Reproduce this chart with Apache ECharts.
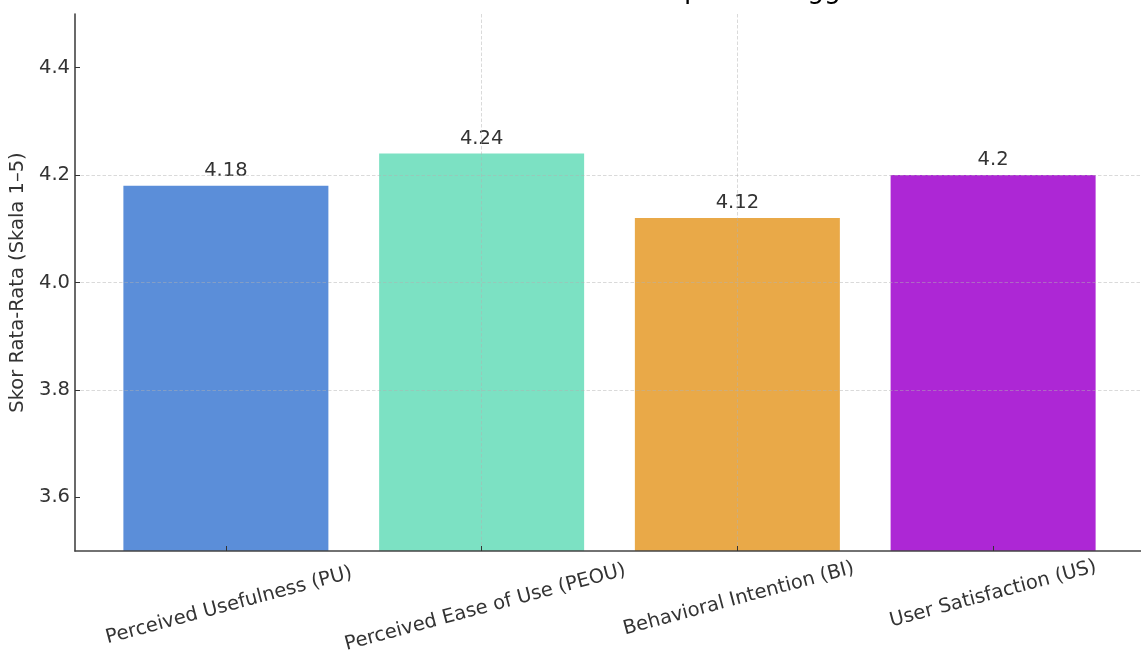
<!DOCTYPE html>
<html>
<head>
<meta charset="utf-8">
<script src="https://cdn.jsdelivr.net/npm/echarts@6/dist/echarts.min.js"></script>
<style>
  html, body { margin: 0; padding: 0; background: #ffffff; }
  #chart { width: 1141px; height: 656px; }
</style>
</head>
<body>
<div id="chart"></div>
<script>
// Mean score per research variable (scale 1-5)
const categories = [
  'Perceived Usefulness (PU)',
  'Perceived Ease of Use (PEOU)',
  'Behavioral Intention (BI)',
  'User Satisfaction (US)'
];
const scores = [4.18, 4.24, 4.12, 4.2];
const barColors = ['#5b8ed9', '#7ce1c3', '#e9a948', '#ad27d5'];
const yTicks = [3.6, 3.8, 4.0, 4.2, 4.4];
const xTicks = [0, 1, 2, 3];
const titleText = 'Skor Rata-Rata Variabel pada Pengguna';
const yAxisTitle = 'Skor Rata-Rata (Skala 1\u20135)';

const FONT = '"DejaVu Sans", "Liberation Sans", sans-serif';
const TEXT = '#333333';
const FS = 19.5;
const GRID_LINE = {
  color: 'rgba(176,176,176,0.6)',
  width: 0.8,
  type: [3.5, 2]
};

const chart = echarts.init(document.getElementById('chart'), null, { renderer: 'canvas' });

function richLabel(padTop) {
  return { padding: [padTop, 0, 0, 0], fontSize: FS, color: TEXT, fontFamily: FONT };
}

chart.setOption({
  backgroundColor: '#ffffff',
  animation: false,
  textStyle: { fontFamily: FONT, color: TEXT },
  // Title sits above the top edge of the canvas; only its descenders remain in view
  graphic: [{
    type: 'text',
    x: 626,
    y: -8.5,
    z: 10,
    style: {
      text: titleText,
      fontSize: 26.6,
      fontFamily: FONT,
      fill: '#000000',
      align: 'center',
      verticalAlign: 'middle'
    }
  }],
  grid: { left: 75, right: -3, top: 14, bottom: 105, containLabel: false, outerBoundsMode: 'none' },
  xAxis: {
    type: 'value',
    min: -0.59,
    max: 3.59,
    z: 3,
    axisLine: { show: true, onZero: false, lineStyle: { color: '#444444', width: 1.6 } },
    axisTick: { show: true, inside: true, length: 5, customValues: xTicks, lineStyle: { color: '#333333', width: 1 } },
    splitLine: { show: true, showMinLine: false, showMaxLine: false, lineStyle: GRID_LINE },
    axisLabel: {
      customValues: xTicks,
      rotate: 15,
      margin: 43,
      align: 'center',
      verticalAlign: 'middle',
      fontSize: FS,
      color: TEXT,
      fontFamily: FONT,
      formatter: function (v) {
        const i = Math.round(v);
        return '{c' + i + '|' + categories[i] + '}';
      },
      rich: {
        c0: richLabel(24),
        c1: richLabel(28),
        c2: richLabel(10),
        c3: richLabel(0)
      }
    }
  },
  yAxis: {
    type: 'value',
    min: 3.5,
    max: 4.5,
    z: 3,
    name: yAxisTitle,
    nameLocation: 'middle',
    nameGap: 43,
    nameTextStyle: { fontSize: FS, color: TEXT, fontFamily: FONT },
    axisLine: { show: true, onZero: false, lineStyle: { color: '#444444', width: 1.6 } },
    axisTick: { show: true, inside: true, length: 5, customValues: yTicks, lineStyle: { color: '#333333', width: 1 } },
    splitLine: { show: true, showMinLine: false, showMaxLine: false, lineStyle: GRID_LINE },
    axisLabel: {
      customValues: yTicks,
      margin: 5,
      fontSize: FS,
      color: TEXT,
      fontFamily: FONT,
      formatter: function (v) { return v.toFixed(1); }
    }
  },
  series: [{
    type: 'bar',
    barWidth: 205,
    clip: true,
    data: scores.map(function (v, i) {
      return { value: [i, v], itemStyle: { color: barColors[i] } };
    }),
    label: {
      show: true,
      position: 'top',
      distance: 5,
      fontSize: FS,
      color: TEXT,
      fontFamily: FONT,
      formatter: function (p) { return String(p.value[1]); }
    }
  }]
});
</script>
</body>
</html>
